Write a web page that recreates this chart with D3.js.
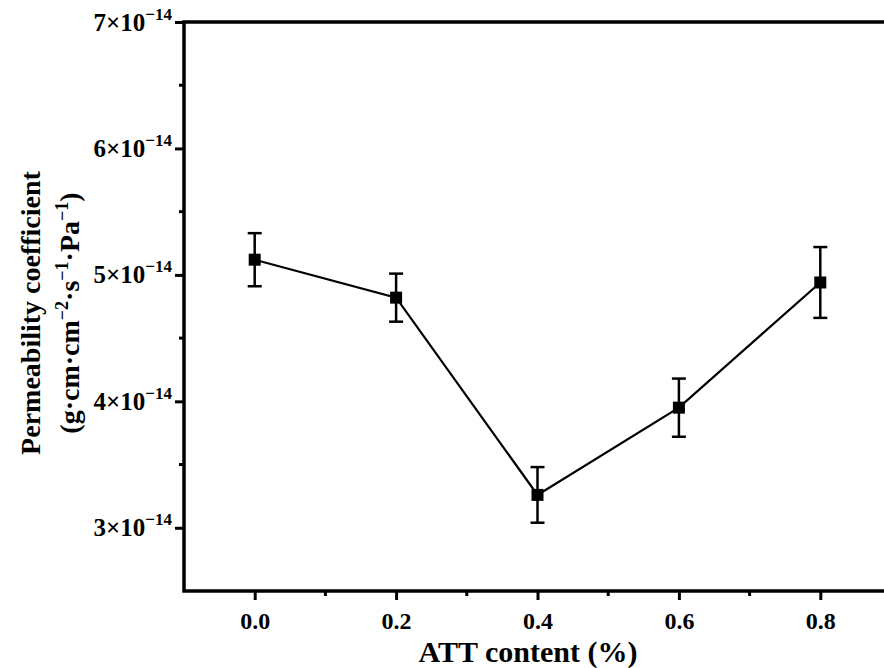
<!DOCTYPE html>
<html>
<head>
<meta charset="utf-8">
<script src="https://cdn.jsdelivr.net/npm/d3@7"></script>
<style>
  body { margin: 0; background: #fff; }
  svg { display: block; font-family: "Liberation Serif", "Times New Roman", serif; font-weight: bold; }
</style>
</head>
<body>
<div class="container"></div>
<script>
// ATT content (%) and measured permeability (x 1e-14)
var attContent = [0.0, 0.2, 0.4, 0.6, 0.8];
var permeability = [5.12, 4.82, 3.26, 3.95, 4.94];
var errorBars = [0.21, 0.19, 0.22, 0.23, 0.28];
var xTicks = [0.0, 0.2, 0.4, 0.6, 0.8];
var yTicks = [3, 4, 5, 6, 7];

var width = 884, height = 668;
var margin = {left: 184, top: 22, right: -7, bottom: 77};

var data = attContent.map(function (x, i) {
    return {x: x, y: permeability[i], err: errorBars[i]};
});

var xScale = d3.scaleLinear()
    .domain([-0.1, 0.9])
    .range([margin.left, width - margin.right]);

var yScale = d3.scaleLinear()
    .domain([2.5, 7])
    .range([height - margin.bottom, margin.top]);

var svg = d3.select('.container')
    .append('svg')
    .attr('width', width)
    .attr('height', height);

var x0 = xScale.range()[0], x1 = xScale.range()[1];
var y0 = yScale.range()[0], y1 = yScale.range()[1];

// minor ticks
svg.append('g').selectAll('line')
    .data(d3.range(0.1, 0.95, 0.2))
    .enter().append('line')
    .attr('x1', function (d) { return xScale(d); })
    .attr('x2', function (d) { return xScale(d); })
    .attr('y1', y0).attr('y2', y0 + 5)
    .attr('stroke', '#000').attr('stroke-width', 3);

svg.append('g').selectAll('line')
    .data([3.5, 4.5, 5.5, 6.5])
    .enter().append('line')
    .attr('y1', function (d) { return yScale(d); })
    .attr('y2', function (d) { return yScale(d); })
    .attr('x1', x0).attr('x2', x0 - 5)
    .attr('stroke', '#000').attr('stroke-width', 3);

// x axis
var xAxis = d3.axisBottom(xScale)
    .tickValues(xTicks)
    .tickFormat(d3.format('.1f'))
    .tickSizeInner(9)
    .tickSizeOuter(0)
    .tickPadding(12);

var gx = svg.append('g')
    .attr('transform', 'translate(0,' + y0 + ')')
    .call(xAxis);
gx.select('.domain').remove();
gx.selectAll('line').attr('stroke-width', 3);
gx.selectAll('text')
    .attr('font-family', '"Liberation Serif", serif')
    .attr('font-weight', 'bold')
    .attr('font-size', 24)
    .attr('fill', '#000');

// y axis
var yAxis = d3.axisLeft(yScale)
    .tickValues(yTicks)
    .tickFormat('')
    .tickSizeInner(9)
    .tickSizeOuter(0);

var gy = svg.append('g')
    .attr('transform', 'translate(' + x0 + ',0)')
    .call(yAxis);
gy.select('.domain').remove();
gy.selectAll('line').attr('stroke-width', 3);

var yLab = gy.selectAll('.tick')
    .append('text')
    .attr('x', -12)
    .attr('y', 8)
    .attr('text-anchor', 'end')
    .attr('fill', '#000')
    .attr('font-family', '"Liberation Serif", serif')
    .attr('font-weight', 'bold')
    .attr('font-size', 25);
yLab.append('tspan').text(function (d) { return d + '\u00d710'; });
yLab.append('tspan')
    .attr('dy', -11)
    .attr('font-size', 17)
    .text('\u221214');

// frame: left, bottom, top
svg.append('path')
    .attr('d', 'M' + (x1 + 2) + ',' + y1 + 'H' + x0 + 'V' + y0 + 'H' + (x1 + 2))
    .attr('fill', 'none')
    .attr('stroke', '#000')
    .attr('stroke-width', 3.5);

// line
var line = d3.line()
    .x(function (d) { return xScale(d.x); })
    .y(function (d) { return yScale(d.y); });

svg.append('path')
    .datum(data)
    .attr('d', line)
    .attr('fill', 'none')
    .attr('stroke', '#000')
    .attr('stroke-width', 2.2);

// error bars
var eb = svg.append('g').selectAll('g')
    .data(data)
    .enter().append('g')
    .attr('stroke', '#000')
    .attr('stroke-width', 2.5);

eb.append('line')
    .attr('x1', function (d) { return xScale(d.x); })
    .attr('x2', function (d) { return xScale(d.x); })
    .attr('y1', function (d) { return yScale(d.y + d.err); })
    .attr('y2', function (d) { return yScale(d.y - d.err); });

[1, -1].forEach(function (s) {
    eb.append('line')
        .attr('x1', function (d) { return xScale(d.x) - 7; })
        .attr('x2', function (d) { return xScale(d.x) + 7; })
        .attr('y1', function (d) { return yScale(d.y + s * d.err); })
        .attr('y2', function (d) { return yScale(d.y + s * d.err); });
});

// markers
svg.append('g').selectAll('rect')
    .data(data)
    .enter().append('rect')
    .attr('x', function (d) { return xScale(d.x) - 6; })
    .attr('y', function (d) { return yScale(d.y) - 6; })
    .attr('width', 12)
    .attr('height', 12)
    .attr('fill', '#000');

// axis titles
svg.append('text')
    .attr('x', 528)
    .attr('y', 662)
    .attr('text-anchor', 'middle')
    .attr('font-size', 30)
    .attr('fill', '#000')
    .text('ATT content (%)');

var yt = svg.append('text')
    .attr('transform', 'translate(40,313) rotate(-90)')
    .attr('text-anchor', 'middle')
    .attr('font-size', 28)
    .attr('fill', '#000');
yt.append('tspan').attr('x', 0).attr('y', 0).text('Permeability coefficient');

var yt2 = svg.append('text')
    .attr('transform', 'translate(79,313) rotate(-90)')
    .attr('text-anchor', 'middle')
    .attr('font-size', 28)
    .attr('fill', '#000');
yt2.append('tspan').text('(g\u00b7cm\u00b7cm');
yt2.append('tspan').attr('dy', -11).attr('font-size', 18).text('\u22122');
yt2.append('tspan').attr('dy', 11).text('\u00b7s');
yt2.append('tspan').attr('dy', -11).attr('font-size', 18).text('\u22121');
yt2.append('tspan').attr('dy', 11).text('\u00b7Pa');
yt2.append('tspan').attr('dy', -11).attr('font-size', 18).text('\u22121');
yt2.append('tspan').attr('dy', 11).text(')');
</script>
</body>
</html>
